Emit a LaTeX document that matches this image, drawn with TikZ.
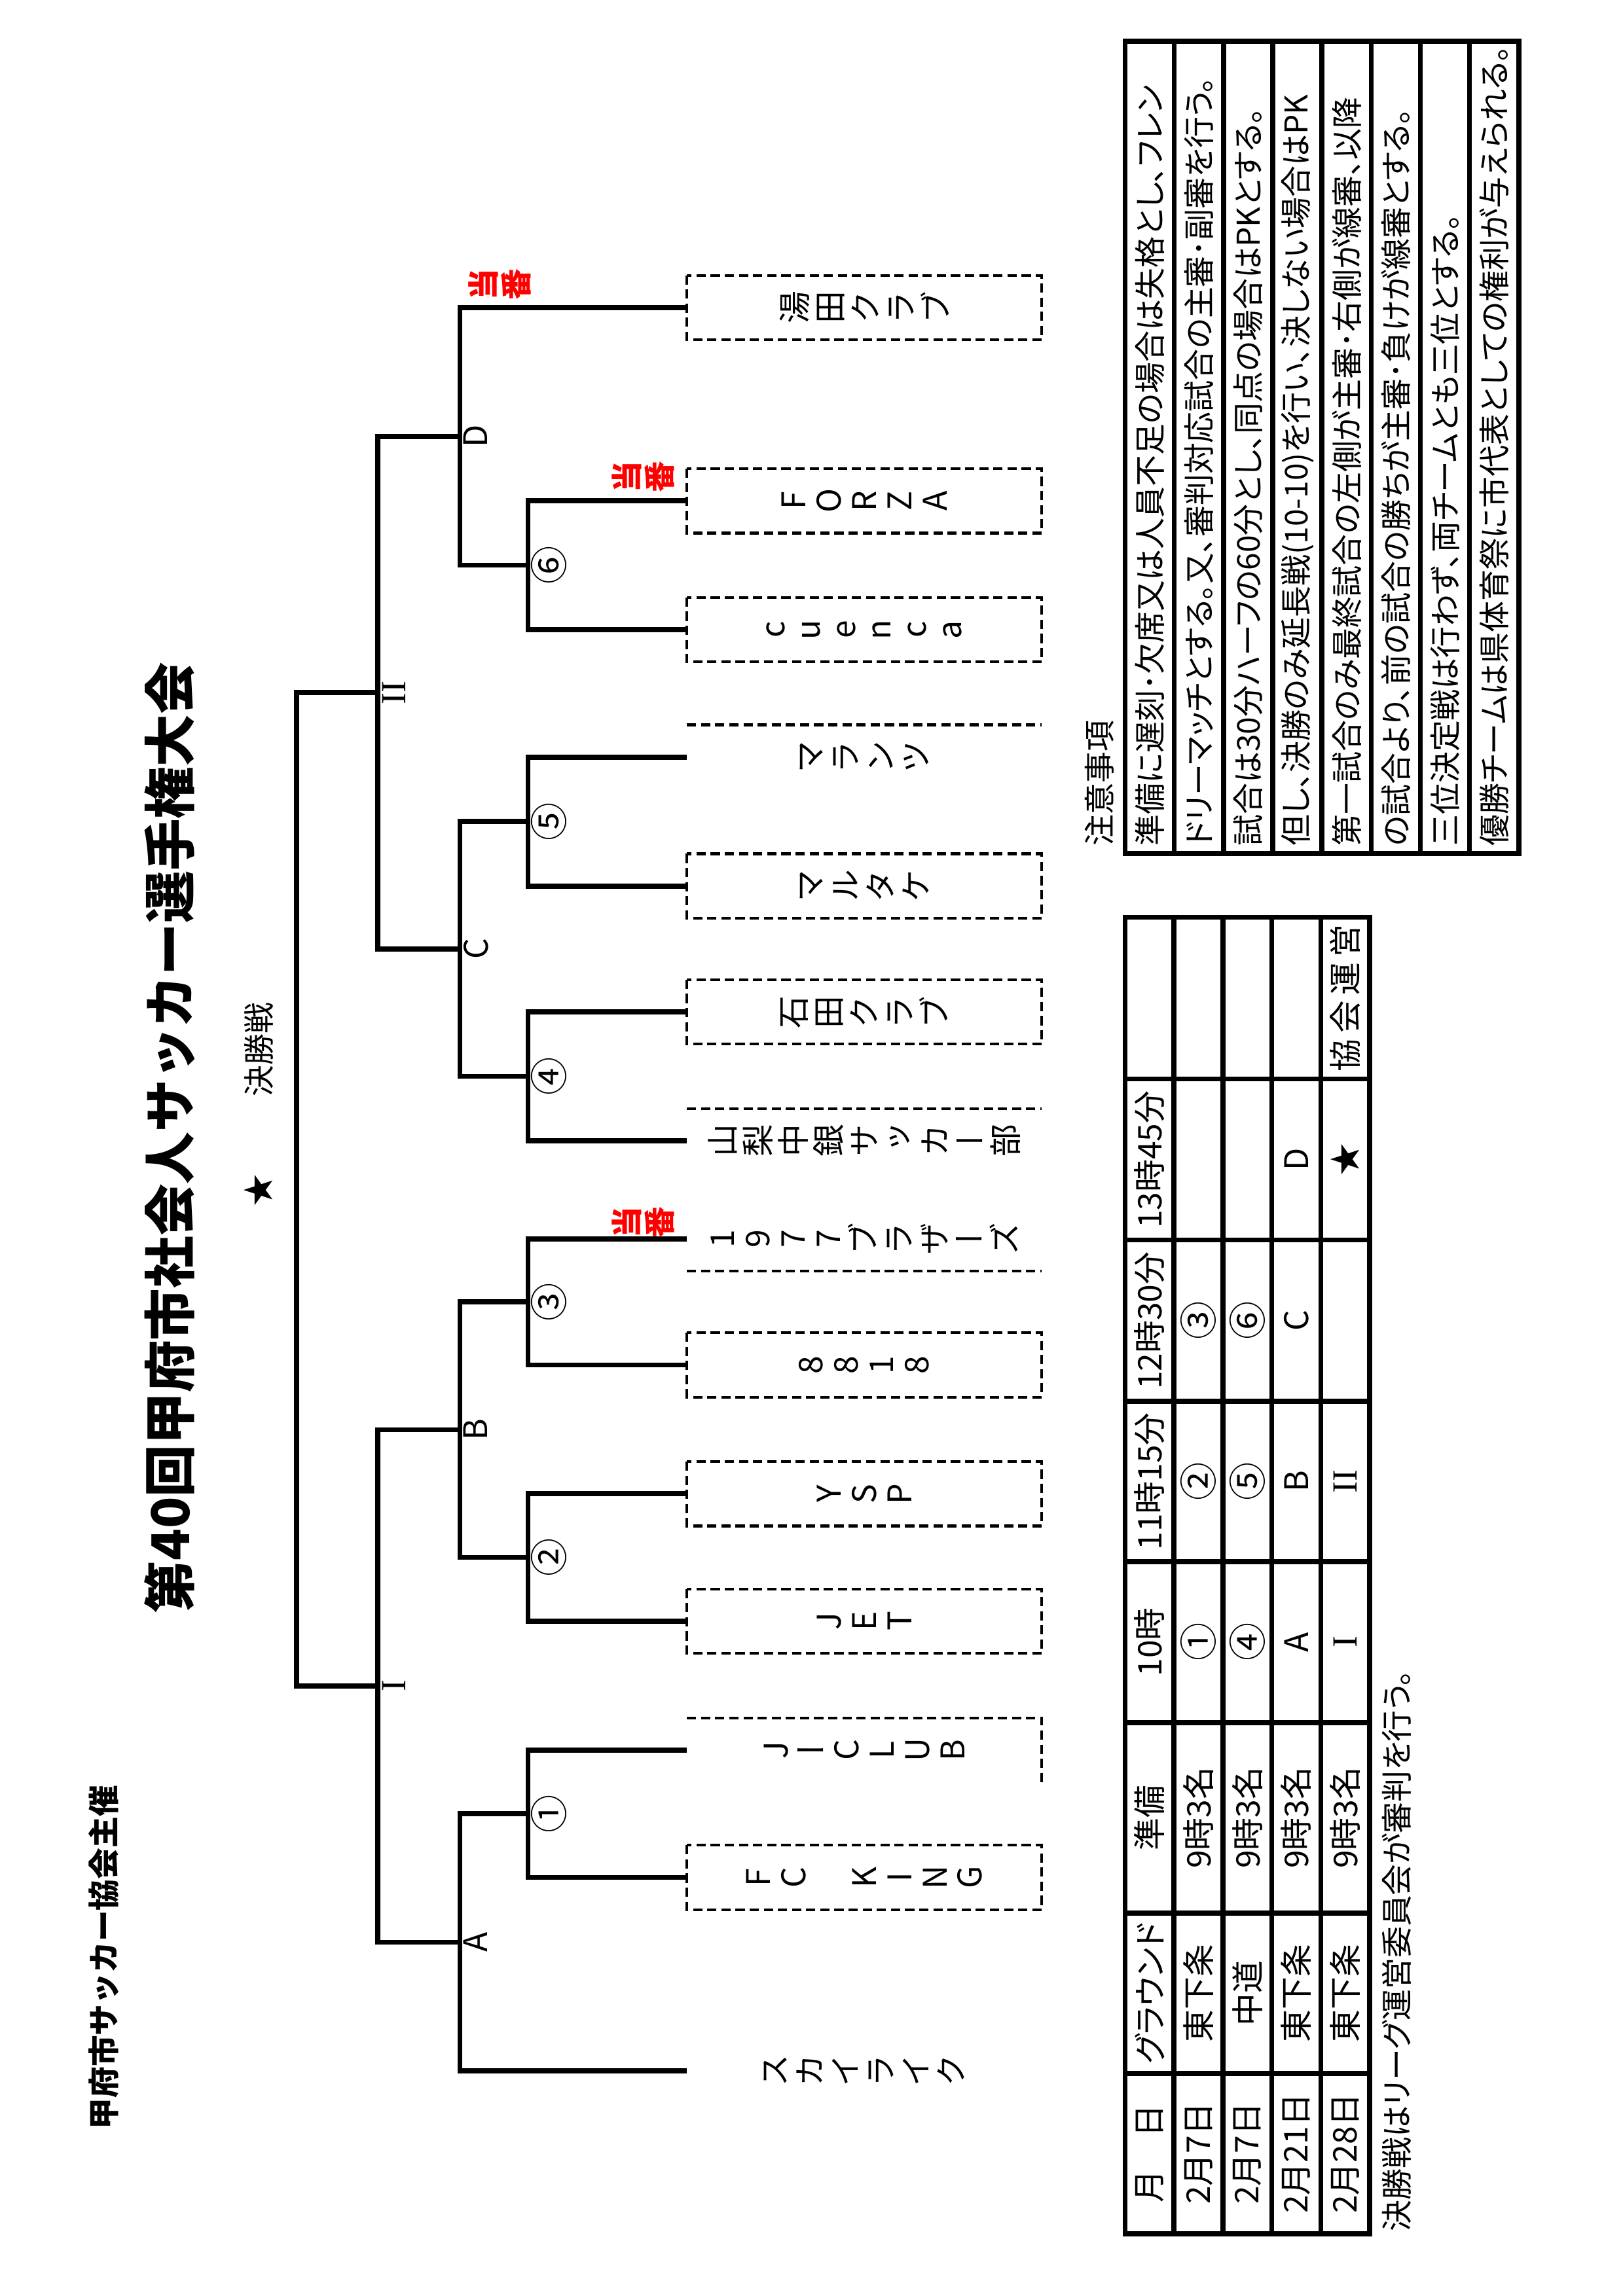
\documentclass[tikz,border=0pt]{standalone}
\usepackage{fontspec}
\newfontfamily\jp{Noto Sans CJK JP}
\newfontfamily\jpp{Noto Sans CJK JP}[RawFeature=+palt]
\newfontfamily\jpv{Noto Sans CJK JP}[RawFeature=+vert]
\newfontfamily\rmn{Liberation Serif}
\newcommand\cnum[1]{{\jp\fontsize{14}{14}\selectfont #1}}
\newcommand\rnum[1]{{\rmn\fontsize{13}{13}\selectfont #1}}
\usepackage{tikz}

\tikzset{
  every node/.style={rotate=90, inner sep=0pt, outer sep=0pt},
  bline/.style={line width=1.85pt},
  dline/.style={line width=1pt, dash pattern=on 3.4pt off 1.8pt},
  team/.style={minimum width=8.34mm, minimum height=45.88mm, align=center, font=\jpv\fontsize{12}{13}\selectfont},
  teambox/.style={team, draw, dline},
  mnum/.style={anchor=north, font=\jp\fontsize{14}{14}\selectfont},
  jlab/.style={anchor=north, font=\jp\fontsize{12}{12}\selectfont},
  duty/.style={align=center, text=red, font=\jp\bfseries\fontsize{11.5}{12}\selectfont},
  tline/.style={line width=1.8pt},
  cell/.style={font=\jpp\fontsize{12}{12}\selectfont},
  note/.style={anchor=west, font=\jpp\fontsize{11.55}{12}\selectfont},
}

\begin{document}
\begin{tikzpicture}[x=0.18944mm, y=0.18944mm]
    \useasboundingbox (0,0) rectangle (1107.9,1567.8);

    \node[font=\jp\bfseries\fontsize{19.2}{20}\selectfont] (title) at (116,791) {第40回甲府市社会人サッカー選手権大会};
    \node[anchor=west, font=\jp\bfseries\fontsize{11.5}{12}\selectfont] (host) at (71,113.8) {甲府市サッカー協会主催};
    \node[font=\jp\fontsize{12}{12}\selectfont] (star) at (176.5,755) {★};
    \node[font=\jp\fontsize{11.5}{12}\selectfont] (final) at (176.5,851) {決勝戦};

    \node[team] (sky) at (590,153.8) {ス\\カ\\イ\\ラ\\イ\\ク};
    \node[teambox] (fck) at (590,285.8) {F\\C\\~\\K\\I\\N\\G};
    \node[team] (jcl) at (590,372.8) {J\\ー\\C\\L\\U\\B};
    \node[teambox] (jet) at (590,460.8) {J\\E\\T};
    \node[teambox] (ysp) at (590,547.8) {Y\\S\\P};
    \node[teambox] (e818) at (590,635.8) {8\\8\\1\\8};
    \node[team] (b1977) at (590,721.8) {1\\9\\7\\7\\ブ\\ラ\\ザ\\ー\\ズ};
    \node[team] (yam) at (590,788.8) {山\\梨\\中\\銀\\サ\\ッ\\カ\\ー\\部};
    \node[teambox] (ish) at (590,876.8) {石\\田\\ク\\ラ\\ブ};
    \node[teambox] (mta) at (590,962.8) {マ\\ル\\タ\\ケ};
    \node[team] (mar) at (590,1050.8) {マ\\ラ\\ン\\ツ};
    \node[teambox] (cue) at (590,1137.8) {c\\u\\e\\n\\c\\a};
    \node[teambox] (frz) at (590,1225.8) {F\\O\\R\\Z\\A};
    \node[teambox] (yud) at (590,1357.8) {湯\\田\\ク\\ラ\\ブ};

    \draw[dline] (jcl.north east) -- (jcl.south east) -- (jcl.south west);
    \draw[dline] (b1977.north west) -- (b1977.south west);
    \draw[dline] (yam.north east) -- (yam.south east);
    \draw[dline] (mar.north east) -- (mar.south east);

    \coordinate (m1) at (360.5,329.3);
    \coordinate (m2) at (360.5,504.3);
    \coordinate (m3) at (360.5,678.8);
    \coordinate (m4) at (360.5,832.8);
    \coordinate (m5) at (360.5,1006.8);
    \coordinate (m6) at (360.5,1181.8);
    \coordinate (mA) at (314,241.55);
    \coordinate (mB) at (314,591.55);
    \coordinate (mC) at (314,919.8);
    \coordinate (mD) at (314,1269.8);
    \coordinate (mI) at (258,416.55);
    \coordinate (mII) at (258,1094.8);
    \coordinate (mF) at (202.5,755.7);

    \draw[bline] (fck.north) -| (m1) |- (jcl.north);
    \draw[bline] (jet.north) -| (m2) |- (ysp.north);
    \draw[bline] (e818.north) -| (m3) |- (b1977.north);
    \draw[bline] (yam.north) -| (m4) |- (ish.north);
    \draw[bline] (mta.north) -| (m5) |- (mar.north);
    \draw[bline] (cue.north) -| (m6) |- (frz.north);
    \draw[bline] (sky.north) -| (mA) |- (m1);
    \draw[bline] (m2) -| (mB) |- (m3);
    \draw[bline] (m4) -| (mC) |- (m5);
    \draw[bline] (m6) -| (mD) |- (yud.north);
    \draw[bline] (mA) -| (mI) |- (mB);
    \draw[bline] (mC) -| (mII) |- (mD);
    \draw[bline] (mI) -| (mF) |- (mII);

    \node[mnum] (n1) at (362.5,329.3) {①};
    \node[mnum] (n2) at (362.5,504.3) {②};
    \node[mnum] (n3) at (362.5,678.8) {③};
    \node[mnum] (n4) at (362.5,832.8) {④};
    \node[mnum] (n5) at (362.5,1006.8) {⑤};
    \node[mnum] (n6) at (362.5,1181.8) {⑥};
    \node[jlab] (la) at (316.5,241.55) {A};
    \node[jlab] (lb) at (316.5,591.55) {B};
    \node[jlab] (lc) at (316.5,919.8) {C};
    \node[jlab] (ld) at (316.5,1269.8) {D};
    \node[jlab] (li) at (261,416.55) {\rnum{I}};
    \node[jlab] (lii) at (261,1094.8) {\rnum{II}};

    \node[duty] (d1) at (341,1373.7) {当\\番};
    \node[duty] (d2) at (439,1242) {当\\番};
    \node[duty] (d3) at (439,733) {当\\番};

    \draw[tline] (768,42.5) rectangle (935,941.5);
    \foreach \ry in {801.4,834.8,868.2,901.6}
        \draw[tline] (\ry,42.5) -- (\ry,941.5);
    \foreach \cx in {152,261.5,391.5,501.5,611,721,831}
        \draw[tline] (768,\cx) -- (935,\cx);

    \foreach \cx/\txt [count=\j] in {97.25/月\quad 日,206.75/グラウンド,326.5/準備,446.5/10時,556.25/11時15分,666/12時30分,776/13時45分}
        \node[cell] (h\j) at (784.7,\cx) {\txt};
    \foreach \cx/\txt [count=\j] in {97.25/2月7日,206.75/東下条,326.5/9時3名,446.5/\cnum{①},556.25/\cnum{②},666/\cnum{③}}
        \node[cell] (ra\j) at (818.1,\cx) {\txt};
    \foreach \cx/\txt [count=\j] in {97.25/2月7日,206.75/中道,326.5/9時3名,446.5/\cnum{④},556.25/\cnum{⑤},666/\cnum{⑥}}
        \node[cell] (rb\j) at (851.5,\cx) {\txt};
    \foreach \cx/\txt [count=\j] in {97.25/2月21日,206.75/東下条,326.5/9時3名,446.5/A,556.25/B,666/C,776/D}
        \node[cell] (rc\j) at (884.9,\cx) {\txt};
    \foreach \cx/\txt [count=\j] in {97.25/2月28日,206.75/東下条,326.5/9時3名,446.5/\rnum{I},556.25/\rnum{II},776/★,886.25/協\kern2pt 会\kern2pt 運\kern2pt 営}
        \node[cell] (rd\j) at (918.3,\cx) {\txt};
    \node[note] (finalref) at (953.5,44) {決勝戦はリーグ運営委員会が審判を行う。};

    \node[note] (notehead) at (750.5,990) {注意事項};
    \draw[tline] (768,985) rectangle (1036.8,1539.6);
    \foreach \i in {1,...,7}
        \draw[tline] ({768+33.6*\i},985) -- ({768+33.6*\i},1539.6);
    \foreach \txt [count=\i] in {準備に遅刻･欠席又は人員不足の場合は失格とし、フレン,ドリーマッチとする。又、審判対応試合の主審･副審を行う。,試合は30分ハーフの60分とし、同点の場合はPKとする。,但し、決勝のみ延長戦(10-10)を行い、決しない場合はPK,第一試合のみ最終試合の左側が主審･右側が線審、以降,の試合より、前の試合の勝ちが主審･負けが線審とする。,三位決定戦は行わず、両チームとも三位とする。,優勝チームは県体育祭に市代表としての権利が与えられる。}
        \node[note] (note\i) at ({768+33.6*(\i-0.5)},990) {\txt};
\end{tikzpicture}
\end{document}
